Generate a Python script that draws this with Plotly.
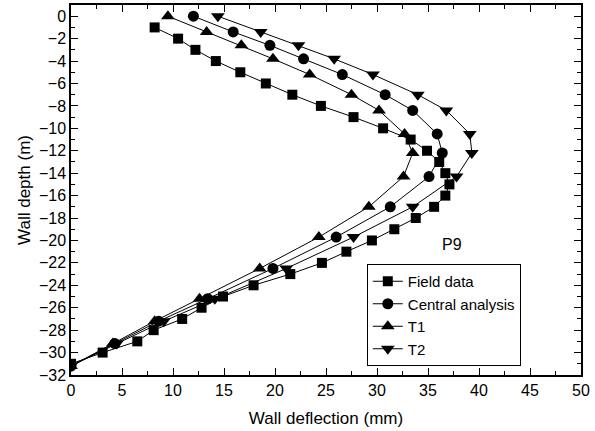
import plotly.graph_objects as go

# Field data (squares)
field_depth = [-1, -2, -3, -4, -5, -6, -7, -8, -9, -10, -11, -12, -13, -14, -15, -16,
               -17, -18, -19, -20, -21, -22, -23, -24, -25, -26, -27, -28, -29, -30, -31]
field_defl = [8.2, 10.5, 12.2, 14.2, 16.6, 19.1, 21.7, 24.5, 27.7, 30.6, 33.3, 34.9, 36.1, 36.7,
              37.1, 36.7, 35.6, 33.8, 31.7, 29.5, 27.0, 24.6, 21.5, 17.9, 14.9, 12.8, 10.9, 8.1,
              6.5, 3.1, 0.0]

# Analysis depths (shared by central analysis, T1, T2)
model_depth = [0, -1.4, -2.6, -3.8, -5.2, -7.0, -8.4, -10.5, -12.2, -14.3, -17.0, -19.7,
               -22.5, -25.2, -27.2, -29.2, -31.2]
central_defl = [12.0, 15.9, 19.5, 22.8, 26.6, 30.8, 33.5, 35.9, 36.4, 35.1, 31.3, 26.0,
                19.8, 13.4, 8.6, 4.3, 0.0]
t1_defl = [9.5, 13.3, 16.7, 19.8, 23.4, 27.5, 30.2, 32.7, 33.5, 32.6, 29.2, 24.3,
           18.5, 12.6, 8.2, 4.1, 0.0]
t2_defl = [14.4, 18.6, 22.3, 25.8, 29.6, 34.0, 36.8, 39.1, 39.3, 37.8, 33.5, 27.7,
           21.1, 14.1, 9.1, 4.5, 0.0]

series = [
    ("Field data", field_defl, field_depth, "square", 10),
    ("Central analysis", central_defl, model_depth, "circle", 11),
    ("T1", t1_defl, model_depth, "triangle-up", 12),
    ("T2", t2_defl, model_depth, "triangle-down", 12),
]

FONT = "Liberation Sans, Arial, sans-serif"

fig = go.Figure()
for name, xs, ys, sym, sz in series:
    fig.add_trace(go.Scatter(
        x=xs, y=ys, mode="lines+markers", name=name,
        line=dict(color="black", width=1),
        marker=dict(symbol=sym, size=sz, color="black"),
    ))

fig.add_annotation(x=37.4, y=-20.4, text="P9", showarrow=False,
                   font=dict(family=FONT, size=16, color="black"))

axis_common = dict(
    showgrid=False, zeroline=False, showline=True, linecolor="black", linewidth=1.5,
    mirror="ticks", ticks="inside", ticklen=7, tickwidth=1.3, tickcolor="black",
    tickfont=dict(family=FONT, size=16, color="black"),
)

fig.update_xaxes(
    range=[0, 50], dtick=5, tick0=0,
    title=dict(text="Wall deflection (mm)", font=dict(family=FONT, size=17, color="black"), standoff=14),
    minor=dict(ticks="inside", ticklen=4, dtick=2.5, tickcolor="black", tickwidth=1),
    **axis_common,
)
fig.update_yaxes(
    range=[-32, 1], dtick=2, tick0=0,
    title=dict(text="Wall depth (m)", font=dict(family=FONT, size=17, color="black"), standoff=4),
    minor=dict(ticks="inside", ticklen=4, dtick=1, tickcolor="black", tickwidth=1),
    **axis_common,
)

fig.update_layout(
    width=595, height=431,
    margin=dict(l=71, r=14, t=5, b=56, autoexpand=False),
    plot_bgcolor="white", paper_bgcolor="white",
    font=dict(family=FONT, size=16, color="black"),
    legend=dict(
        x=0.58, y=0.30, xanchor="left", yanchor="top",
        bgcolor="white", bordercolor="black", borderwidth=1,
        font=dict(family=FONT, size=15, color="black"),
        tracegroupgap=0, itemwidth=30,
    ),
    showlegend=True,
)

fig.write_html("out.html")
